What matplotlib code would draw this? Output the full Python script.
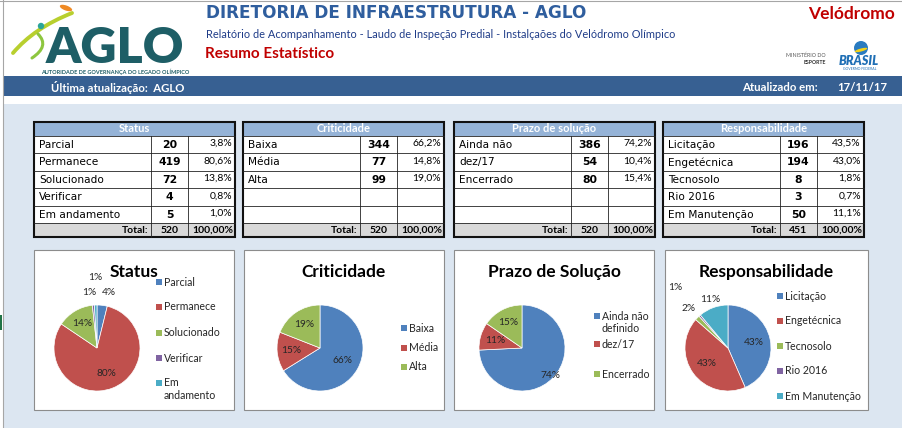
import numpy as np
import matplotlib
matplotlib.use('Agg')
import matplotlib.pyplot as plt
from matplotlib.patches import Rectangle, PathPatch, Circle, Ellipse
from matplotlib.path import Path

plt.rcParams['font.family'] = ['Lato', 'DejaVu Sans']

W, H = 902, 428

# ---- data ----
status_labels = ['Parcial', 'Permanece', 'Solucionado', 'Verificar', 'Em andamento']
status_counts = [20, 419, 72, 4, 5]
status_pie_pct = ['4%', '80%', '14%', '1%', '1%']
status_legend = ['Parcial', 'Permanece', 'Solucionado', 'Verificar', 'Em\nandamento']

crit_labels = ['Baixa', 'Média', 'Alta']
crit_counts = [344, 77, 99]
crit_pie_pct = ['66%', '15%', '19%']

prazo_labels = ['Ainda não', 'dez/17', 'Encerrado']
prazo_counts = [386, 54, 80]
prazo_pie_pct = ['74%', '11%', '15%']
prazo_legend = ['Ainda não\ndefinido', 'dez/17', 'Encerrado']

resp_labels = ['Licitação', 'Engetécnica', 'Tecnosolo', 'Rio 2016', 'Em Manutenção']
resp_counts = [196, 194, 8, 3, 50]
resp_pie_pct = ['43%', '43%', '2%', '1%', '11%']

pie_colors = ['#4F81BD', '#C0504D', '#9BBB59', '#8064A2', '#4BACC6']

fig = plt.figure(figsize=(W / 100, H / 100), dpi=100, facecolor='white')
bg = fig.add_axes([0, 0, 1, 1])
bg.set_xlim(0, W)
bg.set_ylim(H, 0)
bg.axis('off')

# ---- page background / header ----
bg.add_patch(Rectangle((3, 104), W - 3, H - 104, fc='#DCE6F1', ec='none'))
bg.add_patch(Rectangle((3, 76), W - 3, 20, fc='#376092', ec='none'))
bg.plot([2.5, 2.5], [0, H], color='#A6A6A6', lw=0.8)
bg.plot([0, W], [1, 1], color='#A6A6A6', lw=0.8)
bg.add_patch(Rectangle((0, 315), 2, 15, fc='#217346', ec='none'))

# AGLO logo
teal = '#1E5E66'
bg.text(115, 48, 'AGLO', color=teal, fontsize=36, weight='heavy', ha='center', va='center')
bg.text(115, 71.5, 'AUTORIDADE DE GOVERNANÇA DO LEGADO OLÍMPICO', color=teal,
        fontsize=4.0, weight='bold', ha='center', va='center')
swoosh = Path([(13, 53), (34, 28), (72, 13)], [Path.MOVETO, Path.CURVE3, Path.CURVE3])
bg.add_patch(PathPatch(swoosh, fc='none', ec='#B8CF2E', lw=2.8, capstyle='round'))
swoosh2 = Path([(32, 58), (50, 46), (38, 34)], [Path.MOVETO, Path.CURVE3, Path.CURVE3])
bg.add_patch(PathPatch(swoosh2, fc='none', ec='#8DC63F', lw=2.2, capstyle='round'))
bg.add_patch(Ellipse((66, 8), 13, 5, angle=20, fc='#F08A24', ec='none'))
bg.add_patch(Circle((41, 26), 3.2, fc='#2BA59A', ec='none'))

# titles
bg.text(206, 13, 'DIRETORIA DE INFRAESTRUTURA - AGLO', color='#2F5E9E', fontsize=12.2,
        weight='bold', family='DejaVu Sans', ha='left', va='center')
bg.text(206, 34, 'Relatório de Acompanhamento - Laudo de Inspeção Predial - '
        'Instalçaões do Velódromo Olímpico', color='#1F3C88', fontsize=7.9,
        ha='left', va='center')
bg.text(205, 54, 'Resumo Estatístico', color='#C00000', fontsize=11, weight='bold',
        ha='left', va='center')
bg.text(895, 14, 'Velódromo', color='#C00000', fontsize=12.5, weight='bold',
        ha='right', va='center')

# ministry logo
bg.text(826, 55, 'MINISTÉRIO DO', color='#555555', fontsize=3.8, ha='right', va='center')
bg.text(826, 62.5, 'ESPORTE', color='#333333', fontsize=3.8, weight='bold', ha='right', va='center')
bg.add_patch(Circle((861, 48), 7, fc='#2A7BC0', ec='none'))
bg.add_patch(Ellipse((861, 50), 13, 3, angle=-15, fc='#F2D21B', ec='none'))
bg.text(859, 61, 'BRASIL', color='#1F6FB5', fontsize=9, weight='heavy', style='italic',
        ha='center', va='center')
bg.text(860, 69, 'GOVERNO FEDERAL', color='#1F6FB5', fontsize=2.5, ha='center', va='center')

# blue bar text
bg.text(51, 87, 'Última atualização:  AGLO', color='white', fontsize=8.2, weight='bold',
        ha='left', va='center')
bg.text(742, 87, 'Atualizado em:', color='white', fontsize=8.2, weight='bold',
        ha='left', va='center')
bg.text(837, 87, '17/11/17', color='white', fontsize=8.2, weight='bold',
        ha='left', va='center')

# ---- tables ----
col_w = [117, 37, 47]
head_top, head_bot = 121.5, 135.5
row_h = 17.5
tot_top, tot_bot = 223, 237


def pct_str(v, nd):
    return f'{v:.{nd}f}'.replace('.', ',') + '%'


def draw_table(x0, title, labels, counts):
    xs = [x0, x0 + col_w[0], x0 + col_w[0] + col_w[1], x0 + sum(col_w)]
    x1 = xs[-1]
    total = sum(counts)
    bg.add_patch(Rectangle((x0, head_top), x1 - x0, tot_bot - head_top, fc='white', ec='none'))
    bg.add_patch(Rectangle((x0, head_top), x1 - x0, head_bot - head_top, fc='#95B3D7', ec='none'))
    bg.add_patch(Rectangle((x0, tot_top), x1 - x0, tot_bot - tot_top, fc='#D9D9D9', ec='none'))
    for i in range(6):
        y = head_bot + i * row_h
        bg.plot([x0, x1], [y, y], color='#222222', lw=0.6)
    for xv in xs[1:3]:
        bg.plot([xv, xv], [head_bot, tot_bot], color='#222222', lw=0.6)
    bg.add_patch(Rectangle((x0, head_top), x1 - x0, tot_bot - head_top, fc='none',
                           ec='#111111', lw=1.5))
    bg.text((x0 + x1) / 2, (head_top + head_bot) / 2, title, color='white', weight='bold',
            fontsize=8, ha='center', va='center')
    for i, (lab, c) in enumerate(zip(labels, counts)):
        yc = head_bot + (i + 0.5) * row_h + 0.5
        bg.text(x0 + 5, yc, lab, fontsize=7.6, family='DejaVu Sans', ha='left', va='center')
        bg.text((xs[1] + xs[2]) / 2, yc, str(c), fontsize=7.8, weight='bold',
                family='DejaVu Sans', ha='center', va='center')
        bg.text(x1 - 3, yc - 1.5, pct_str(100 * c / total, 1), fontsize=7.5,
                ha='right', va='center')
    yt = (tot_top + tot_bot) / 2
    bg.text(xs[1] - 3, yt, 'Total:', fontsize=7.5, weight='bold', ha='right', va='center')
    bg.text((xs[1] + xs[2]) / 2, yt, str(total), fontsize=7.5, weight='bold',
            ha='center', va='center')
    bg.text(x1 - 2, yt, pct_str(100, 2), fontsize=7.5, weight='bold', ha='right', va='center')


draw_table(34, 'Status', status_labels, status_counts)
draw_table(243, 'Criticidade', crit_labels, crit_counts)
draw_table(454, 'Prazo de solução', prazo_labels, prazo_counts)
draw_table(663, 'Responsabilidade', resp_labels, resp_counts)

# ---- pie charts ----
pie_cy = 348
pie_r = 43


def draw_pie(px0, px1, cx, title, counts, pct_txt, pct_r, pct_dx, leg_labels, leg_x, leg_y):
    bg.add_patch(Rectangle((px0, 250), px1 - px0, 160, fc='white', ec='#8C8C8C', lw=0.8))
    bg.text((px0 + px1) / 2, 272, title, fontsize=12.5, weight='bold', ha='center', va='center')
    S = 105
    ax = fig.add_axes([(cx - S) / W, 1 - (pie_cy + S) / H, 2 * S / W, 2 * S / H])
    wedges, _ = ax.pie(counts, colors=pie_colors[:len(counts)], startangle=90,
                       counterclock=False, radius=1,
                       wedgeprops=dict(edgecolor='white', linewidth=0.5))
    ax.set_xlim(-S / pie_r, S / pie_r)
    ax.set_ylim(-S / pie_r, S / pie_r)
    ax.axis('off')
    for w, txt, r, dx in zip(wedges, pct_txt, pct_r, pct_dx):
        a = np.deg2rad((w.theta1 + w.theta2) / 2)
        ax.text(r * np.cos(a) + dx / pie_r, r * np.sin(a), txt, fontsize=7.3,
                color='#262626', ha='center', va='center')
    for i, lab in enumerate(leg_labels):
        y = leg_y[i]
        bg.add_patch(Rectangle((leg_x - 3, y - 3), 6, 6, fc=pie_colors[i], ec='none'))
        for k, line in enumerate(lab.split('\n')):
            bg.text(leg_x + 5, y + k * 12.5, line, fontsize=7.6, color='#262626',
                    ha='left', va='center')


draw_pie(34, 234, 97, 'Status', status_counts, status_pie_pct,
         [1.3, 0.64, 0.67, 1.29, 1.65], [5, 0, 0, -3, 0],
         status_legend, 159, [282, 307, 333, 358, 383])
draw_pie(244, 444, 320, 'Criticidade', crit_counts, crit_pie_pct,
         [0.6, 0.67, 0.67], [0, 0, 0], crit_labels, 404, [328, 347.5, 367])
draw_pie(454, 654, 522, 'Prazo de Solução', prazo_counts, prazo_pie_pct,
         [0.93, 0.65, 0.67], [0, 0, 0], prazo_legend, 597, [316, 344, 374])
draw_pie(665, 868, 728, 'Responsabilidade', resp_counts, resp_pie_pct,
         [0.62, 0.62, 1.3, 1.86, 1.21], [0, 0, 0, 0, 0],
         resp_labels, 780, [296, 321, 346, 371, 396])

fig.savefig('out.png', dpi=100, facecolor='white')
